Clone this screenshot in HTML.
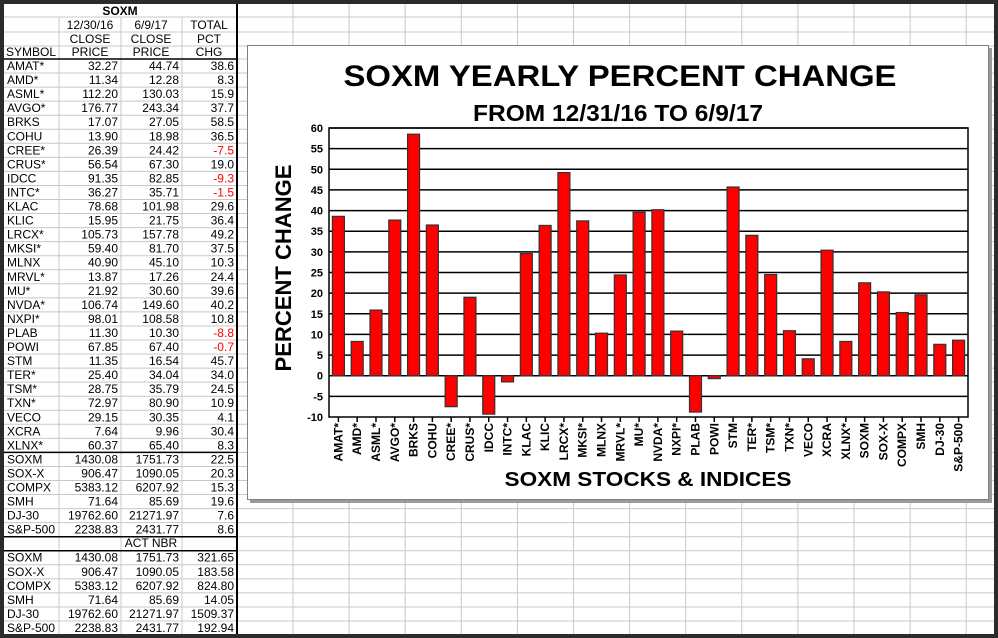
<!DOCTYPE html>
<html><head><meta charset="utf-8"><style>
html,body{margin:0;padding:0;background:#fff}
svg{display:block;font-family:"Liberation Sans",Arial,sans-serif}
</style></head><body>
<svg id="s" width="998" height="638" viewBox="0 0 998 638" xmlns="http://www.w3.org/2000/svg">
<rect x="0" y="0" width="998" height="638" fill="#fff"/>
<g id="grid"></g>
<g id="tbl"></g>
<g id="chart">
  <rect x="250" y="48" width="742" height="455" fill="#9a9a9a"/>
  <rect x="247.5" y="45.5" width="741" height="454" fill="#fff" stroke="#808080"/>
  <text x="620" y="86" text-anchor="middle" font-size="30" font-weight="bold" textLength="553" lengthAdjust="spacingAndGlyphs">SOXM YEARLY PERCENT CHANGE</text>
  <text x="618" y="121" text-anchor="middle" font-size="23" font-weight="bold" textLength="290" lengthAdjust="spacingAndGlyphs">FROM 12/31/16 TO 6/9/17</text>
  <text transform="translate(291,268) rotate(-90)" text-anchor="middle" font-size="22" font-weight="bold" textLength="207" lengthAdjust="spacingAndGlyphs">PERCENT CHANGE</text>
  <text x="648" y="486" text-anchor="middle" font-size="20" font-weight="bold" textLength="287" lengthAdjust="spacingAndGlyphs">SOXM STOCKS &amp; INDICES</text>
  <g id="plot"></g>
</g>
<rect x="0" y="0" width="998" height="638" fill="none" stroke="#2b2b2b" stroke-width="8"/>
</svg>
<script>
const categories=["AMAT*","AMD*","ASML*","AVGO*","BRKS","COHU","CREE*","CRUS*","IDCC","INTC*","KLAC","KLIC","LRCX*","MKSI*","MLNX","MRVL*","MU*","NVDA*","NXPI*","PLAB","POWI","STM","TER*","TSM*","TXN*","VECO","XCRA","XLNX*","SOXM","SOX-X","COMPX","SMH","DJ-30","S&P-500"];
const pctChange=[38.6,8.3,15.9,37.7,58.5,36.5,-7.5,19.0,-9.3,-1.5,29.6,36.4,49.2,37.5,10.3,24.4,39.6,40.2,10.8,-8.8,-0.7,45.7,34.0,24.5,10.9,4.1,30.4,8.3,22.5,20.3,15.3,19.6,7.6,8.6];
const yTicks=[-10,-5,0,5,10,15,20,25,30,35,40,45,50,55,60];
const closeStart=["32.27","11.34","112.20","176.77","17.07","13.90","26.39","56.54","91.35","36.27","78.68","15.95","105.73","59.40","40.90","13.87","21.92","106.74","98.01","11.30","67.85","11.35","25.40","28.75","72.97","29.15","7.64","60.37","1430.08","906.47","5383.12","71.64","19762.60","2238.83"];
const closeEnd=["44.74","12.28","130.03","243.34","27.05","18.98","24.42","67.30","82.85","35.71","101.98","21.75","157.78","81.70","45.10","17.26","30.60","149.60","108.58","10.30","67.40","16.54","34.04","35.79","80.90","30.35","9.96","65.40","1751.73","1090.05","6207.92","85.69","21271.97","2431.77"];
const actNames=["SOXM","SOX-X","COMPX","SMH","DJ-30","S&P-500"];
const actNbr=["321.65","183.58","824.80","14.05","1509.37","192.94"];

const NS="http://www.w3.org/2000/svg";
function mk(p,tag,at,txt){const e=document.createElementNS(NS,tag);for(const k in at)e.setAttribute(k,at[k]);if(txt!==undefined)e.textContent=txt;p.appendChild(e);return e;}

const grid=document.getElementById('grid');
const rowLines=[17,32,46,59];
for(let i=1;i<=41;i++)rowLines.push(59+i*14.05);
rowLines.forEach(y=>{const l=mk(grid,'line',{x1:0,x2:998,y1:y,y2:y,stroke:'#c8c8c8','stroke-width':1});

});
for(let x=293;x<998;x+=56.1){const l=mk(grid,'line',{x1:x,x2:x,y1:0,y2:638,stroke:'#c8c8c8','stroke-width':1});

}

const t=document.getElementById('tbl');
mk(t,'rect',{x:3,y:4,width:234,height:630,fill:'#fff'});
[3,59,121,182].forEach(x=>mk(t,'line',{x1:x,x2:x,y1:17,y2:634,stroke:'#c8c8c8'}));
rowLines.forEach(y=>mk(t,'line',{x1:3,x2:237,y1:y,y2:y,stroke:'#c8c8c8'}));
mk(t,'line',{x1:237,x2:237,y1:4,y2:634,stroke:'#000','stroke-width':2});
[59,452.4,536.7,550.7].forEach(y=>mk(t,'line',{x1:3,x2:237,y1:y,y2:y,stroke:'#000','stroke-width':1.5}));
function txt(x,y,s,anchor,opts){const e=mk(t,'text',Object.assign({x:x,y:y,'font-size':12,'text-anchor':anchor},opts||{}),s);return e;}
const h=txt(120,15,'SOXM','middle',{'font-weight':'bold'});
txt(90,29,'12/30/16','middle');txt(151,29,'6/9/17','middle');txt(209,29,'TOTAL','middle');
txt(90,43,'CLOSE','middle');txt(151,43,'CLOSE','middle');txt(209,43,'PCT','middle');
txt(31,56,'SYMBOL','middle');txt(90,56,'PRICE','middle');txt(151,56,'PRICE','middle');txt(209,56,'CHG','middle');
categories.forEach((c,i)=>{
  const y=59+i*14.05+11;
  const r=mk(t,'g',{});
  
  
  mk(r,'text',{x:7,y:y,'font-size':12},c);
  mk(r,'text',{x:118,y:y,'font-size':12,'text-anchor':'end'},closeStart[i]);
  mk(r,'text',{x:179,y:y,'font-size':12,'text-anchor':'end'},closeEnd[i]);
  mk(r,'text',{x:234,y:y,'font-size':12,'text-anchor':'end',fill:pctChange[i]<0?'#ff0000':'#000'},pctChange[i].toFixed(1));
});
txt(151,547,'ACT NBR','middle');
actNames.forEach((c,i)=>{
  const idx=categories.indexOf(c);
  const y=550.7+i*14.05+11;
  const r=mk(t,'g',{});
  
  
  mk(r,'text',{x:7,y:y,'font-size':12},c);
  mk(r,'text',{x:118,y:y,'font-size':12,'text-anchor':'end'},closeStart[idx]);
  mk(r,'text',{x:179,y:y,'font-size':12,'text-anchor':'end'},closeEnd[idx]);
  mk(r,'text',{x:234,y:y,'font-size':12,'text-anchor':'end'},actNbr[i]);
});

const p=document.getElementById('plot');
const X0=329,X1=968,Y0=128,Y1=417,ymin=-10,ymax=60;
const ys=v=>Y1-(v-ymin)/(ymax-ymin)*(Y1-Y0);
const bw=(X1-X0)/categories.length;
const xc=i=>X0+(i+0.5)*bw;
yTicks.forEach(v=>{
  if(v!==ymin){const g=mk(p,'line',{x1:X0,x2:X1,y1:ys(v),y2:ys(v),stroke:'#000','stroke-width':1.5});
  
  }
  const l=mk(p,'text',{x:X0-6,y:ys(v)+4,'font-size':11,'font-weight':'bold','text-anchor':'end'},String(v));
  
  
});
pctChange.forEach((v,i)=>{
  const top=ys(Math.max(v,0)),bot=ys(Math.min(v,0));
  const b=mk(p,'rect',{x:xc(i)-6,y:top,width:12,height:Math.max(bot-top,1),fill:'#ff0000',stroke:'#333','stroke-width':1.2});
  
  
});
mk(p,'rect',{x:X0,y:Y0,width:X1-X0,height:Y1-Y0,fill:'none',stroke:'#000','stroke-width':1.5});
categories.forEach((c,i)=>{
  mk(p,'line',{x1:xc(i),x2:xc(i),y1:Y1,y2:Y1+5,stroke:'#000','stroke-width':1.5});
  const l=mk(p,'text',{transform:'translate('+(xc(i)+4)+','+(Y1+6)+') rotate(-90)','font-size':12,'font-weight':'bold','text-anchor':'end'},c);
  
  
});
</script>
</body></html>
